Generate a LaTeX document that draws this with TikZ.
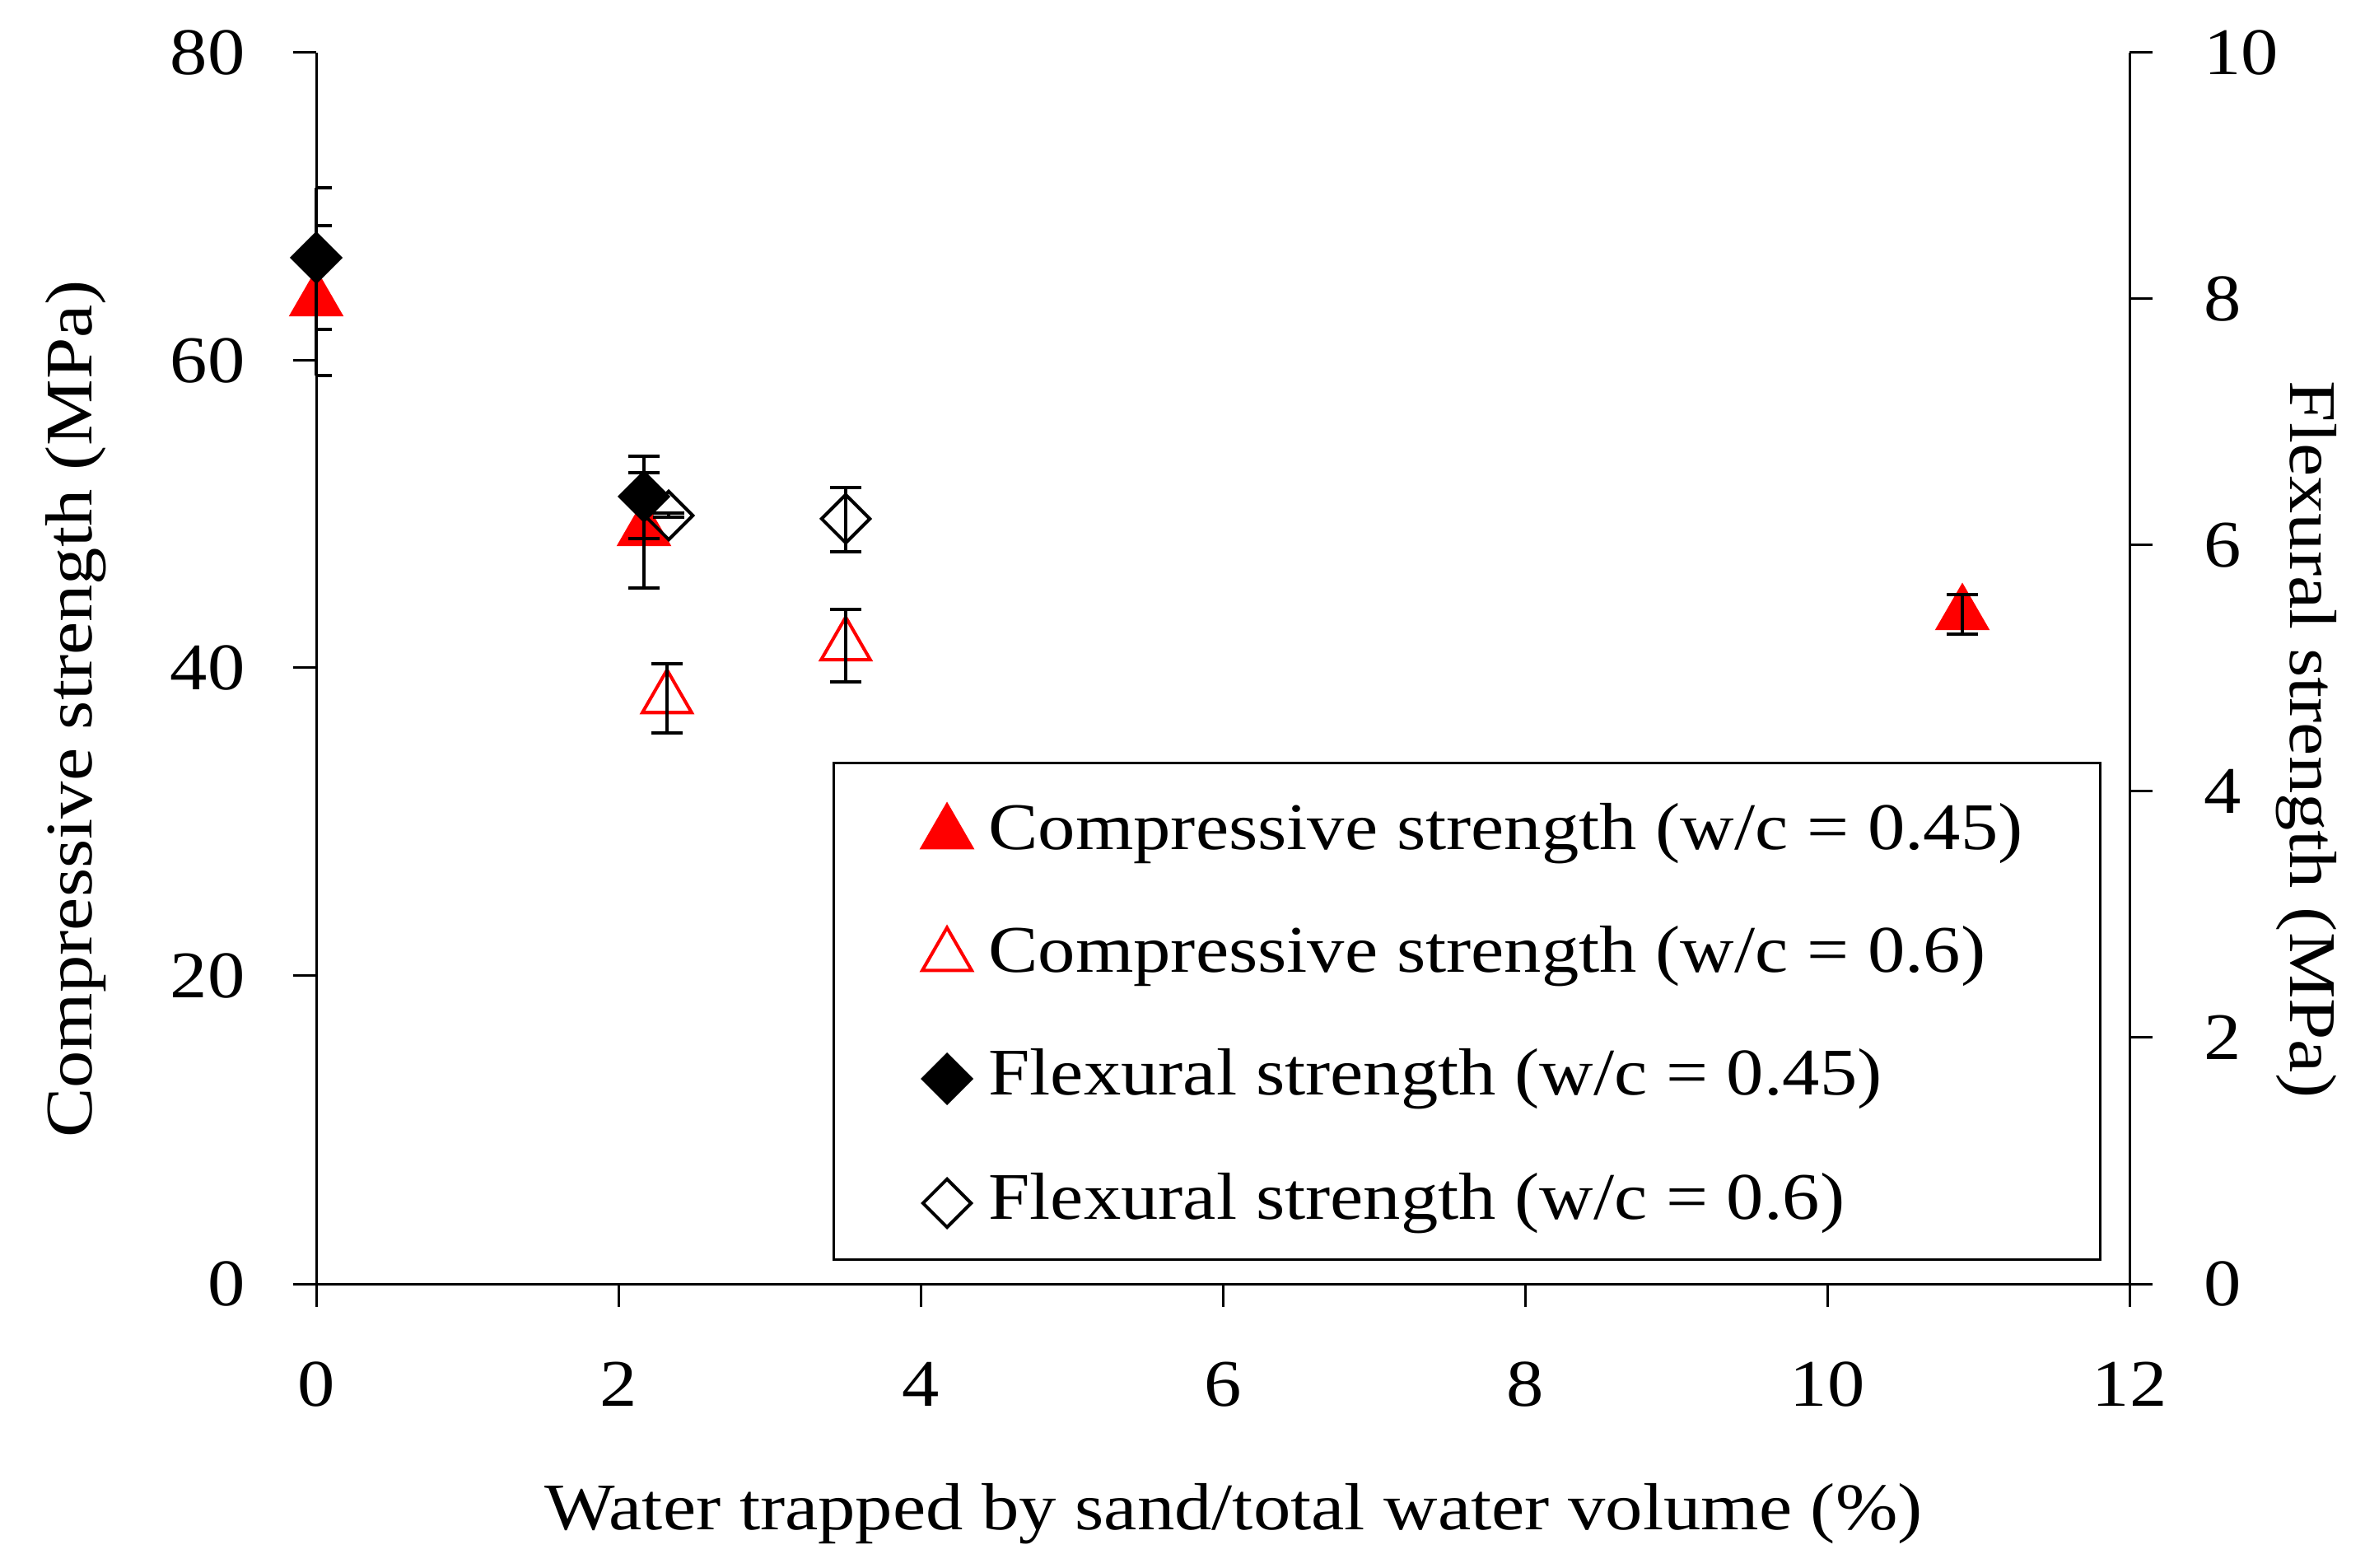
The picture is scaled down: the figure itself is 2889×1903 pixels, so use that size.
\documentclass[tikz,border=0pt]{standalone}
\usepackage{fontspec}
\setmainfont{Liberation Serif}[FakeStretch=1.12]
\usetikzlibrary{shapes.geometric}
\begin{document}
\begin{tikzpicture}[x=0.01cm,y=0.01cm,
  ax/.style={line width=0.03cm},
  eb/.style={line width=0.04cm},
  tri/.style={regular polygon,regular polygon sides=3,minimum size=0.69cm,inner sep=0pt,draw=red,line width=0.04cm},
  ftri/.style={tri,fill=red},
  otri/.style={tri},
  dia/.style={diamond,minimum size=0.6cm,inner sep=0pt,draw=black,line width=0.04cm},
  fdia/.style={dia,fill=black},
  odia/.style={dia},
  lab/.style={font=\fontsize{23}{27}\selectfont}]
\useasboundingbox[fill=white] (0,0) rectangle (2889,1903);
% axes
\draw[ax] (384,1839) -- (384,344) -- (2586,344) -- (2586,1839);
\foreach \v/\y in {0/344,20/718,40/1092,60/1465,80/1839}{
  \draw[ax] (356,\y) -- (384,\y);
  \node[lab,anchor=east] (ly\v) at (310,\y) {\v};}
\foreach \v/\y in {0/344,2/643,4/942,6/1241,8/1540,10/1839}{
  \draw[ax] (2586,\y) -- (2614,\y);
  \node[lab,anchor=west] (ry\v) at (2664,\y) {\v};}
\foreach \v in {0,2,...,12}{
  \pgfmathsetmacro{\xx}{384+183.5*\v}
  \draw[ax] (\xx,344) -- (\xx,316);
  \node[lab] (bx\v) at (\xx,222) {\v};}
\node[lab] (xl) at (1498,65) {Water trapped by sand/total water volume (\%)};
\node[lab,rotate=90] (yl) at (92,1042) {Compressive strength (MPa)};
\node[lab,rotate=-90] (yr) at (2801,1005) {Flexural strength (MPa)};
% markers
\node[ftri] (a1) at (384,1538) {};
\node[ftri] (b1) at (782,1259) {};
\node[ftri] (e1) at (2383,1157) {};
\node[otri] (c2) at (1027,1119) {};
\node[otri] (d2) at (810,1055) {};
\node[fdia] (a3) at (384,1590) {};
\node[fdia] (b3) at (782,1300) {};
\node[odia] (b4) at (812,1277) {};
\node[odia] (c4) at (1027,1273) {};
% error bars (half caps at x=0)
\draw[eb] (384,1675) -- (384,1503);
\draw[eb] (384,1675) -- (403,1675) (384,1503) -- (403,1503);
\draw[eb] (384,1629) -- (384,1447);
\draw[eb] (384,1629) -- (403,1629) (384,1447) -- (403,1447);
\foreach \x/\a/\b in {782/1349/1249, 782/1329/1189, 812/1280/1275, 1027/1311/1233, 1027/1163/1075, 810/1097/1013, 2383/1181/1133}{
  \draw[eb] (\x,\a) -- (\x,\b);
  \draw[eb] (\x-19,\a) -- (\x+19,\a) (\x-19,\b) -- (\x+19,\b);}
% legend
\draw[ax] (1012,976) rectangle (2550,374);
\node[ftri] (l1) at (1150,891) {};
\node[otri] (l2) at (1150,742) {};
\node[fdia] (l3) at (1150,593) {};
\node[odia] (l4) at (1150,442) {};
\node[lab,anchor=west] (t1) at (1188,891) {Compressive strength (w/c = 0.45)};
\node[lab,anchor=west] (t2) at (1188,742) {Compressive strength (w/c = 0.6)};
\node[lab,anchor=west] (t3) at (1188,593) {Flexural strength (w/c = 0.45)};
\node[lab,anchor=west] (t4) at (1188,442) {Flexural strength (w/c = 0.6)};
\end{tikzpicture}
\end{document}
